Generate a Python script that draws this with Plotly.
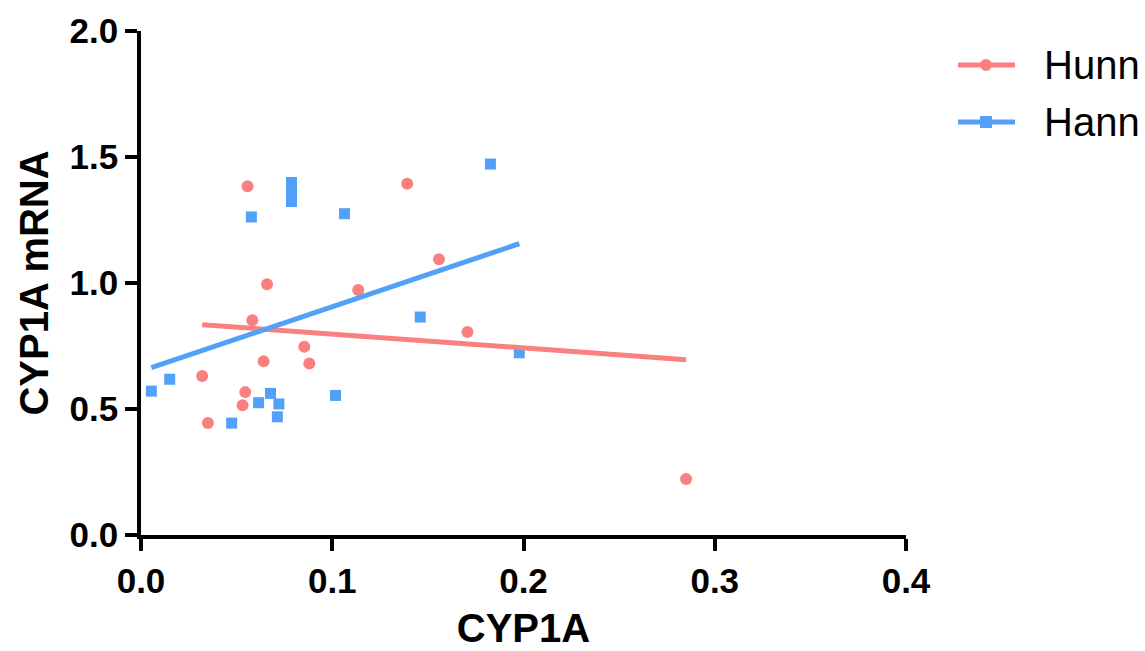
import plotly.graph_objects as go

# ---- data ----
hunn_x = [0.0557, 0.1392, 0.1558, 0.0659, 0.1136, 0.0582, 0.1707, 0.0854,
          0.0641, 0.0880, 0.0320, 0.0545, 0.0531, 0.0350, 0.2850]
hunn_y = [1.384, 1.394, 1.094, 0.995, 0.972, 0.852, 0.806, 0.747,
          0.689, 0.681, 0.631, 0.567, 0.515, 0.444, 0.222]
hann_x = [0.1827, 0.0787, 0.0787, 0.0787, 0.0577, 0.1064, 0.1460, 0.1978,
          0.0150, 0.0054, 0.0677, 0.0615, 0.0721, 0.1017, 0.0713, 0.0474]
hann_y = [1.472, 1.399, 1.361, 1.323, 1.262, 1.275, 0.865, 0.723,
          0.618, 0.571, 0.562, 0.525, 0.520, 0.554, 0.469, 0.444]
# fitted regression line values at min / max x of each group
hunn_fit_y = [0.8345, 0.6956]
hann_fit_y = [0.664, 1.156]

series_names = ["Hunn", "Hann"]
x_ticks = [0.0, 0.1, 0.2, 0.3, 0.4]
y_ticks = [0.0, 0.5, 1.0, 1.5, 2.0]

RED = "#FA8080"
BLUE = "#52A0F8"
FONT = "Liberation Sans"

fig = go.Figure()
fig.add_trace(go.Scatter(x=hann_x, y=hann_y, mode="markers",
                         marker=dict(symbol="square", size=11, color=BLUE),
                         showlegend=False, name=series_names[1]))
fig.add_trace(go.Scatter(x=hunn_x, y=hunn_y, mode="markers",
                         marker=dict(symbol="circle", size=12, color=RED),
                         showlegend=False, name=series_names[0]))
fig.add_trace(go.Scatter(x=[min(hunn_x), max(hunn_x)], y=hunn_fit_y, mode="lines",
                         line=dict(color=RED, width=5), showlegend=False))
fig.add_trace(go.Scatter(x=[min(hann_x), max(hann_x)], y=hann_fit_y, mode="lines",
                         line=dict(color=BLUE, width=5), showlegend=False))

# custom legend (long line samples as in the reference)
leg_y = [0.9325, 0.8194]
leg_cols = [RED, BLUE]
leg_sym = ["circle", "rect"]
for name, yy, col, sym in zip(series_names, leg_y, leg_cols, leg_sym):
    fig.add_shape(type="line", xref="paper", yref="paper",
                  x0=1.068, x1=1.1425, y0=yy, y1=yy,
                  line=dict(color=col, width=5))
    fig.add_shape(type=sym, xref="paper", yref="paper",
                  xsizemode="pixel", ysizemode="pixel",
                  xanchor=1.1046, yanchor=yy, x0=-6, x1=6, y0=-6, y1=6,
                  fillcolor=col, line=dict(width=0))
    fig.add_annotation(x=1.178, y=yy, xref="paper", yref="paper",
                       text=name, showarrow=False, xanchor="left", yanchor="middle",
                       font=dict(family=FONT, size=40, color="black"))

axis_common = dict(showline=True, linecolor="black", linewidth=3.5,
                   ticks="outside", ticklen=12, tickwidth=3.5, tickcolor="black",
                   showgrid=False, zeroline=False, automargin=False,
                   tickfont=dict(family=FONT, size=35, color="black", weight="bold"))

fig.update_xaxes(range=[0, 0.4], tickvals=x_ticks,
                 ticktext=[f"{v:.1f}" for v in x_ticks],
                 title=dict(text="<b>CYP1A</b>", font=dict(family=FONT, size=40, color="black"),
                            standoff=16),
                 **axis_common)
fig.update_yaxes(range=[0, 2.0], tickvals=y_ticks,
                 ticktext=[f"{v:.1f}" for v in y_ticks],
                 title=dict(text="<b>CYP1A mRNA</b>", font=dict(family=FONT, size=40, color="black"),
                            standoff=10),
                 **axis_common)

fig.update_layout(width=1145, height=651,
                  margin=dict(l=141, r=239, t=31, b=116),
                  plot_bgcolor="white", paper_bgcolor="white",
                  showlegend=False)

fig.write_html("out.html")
